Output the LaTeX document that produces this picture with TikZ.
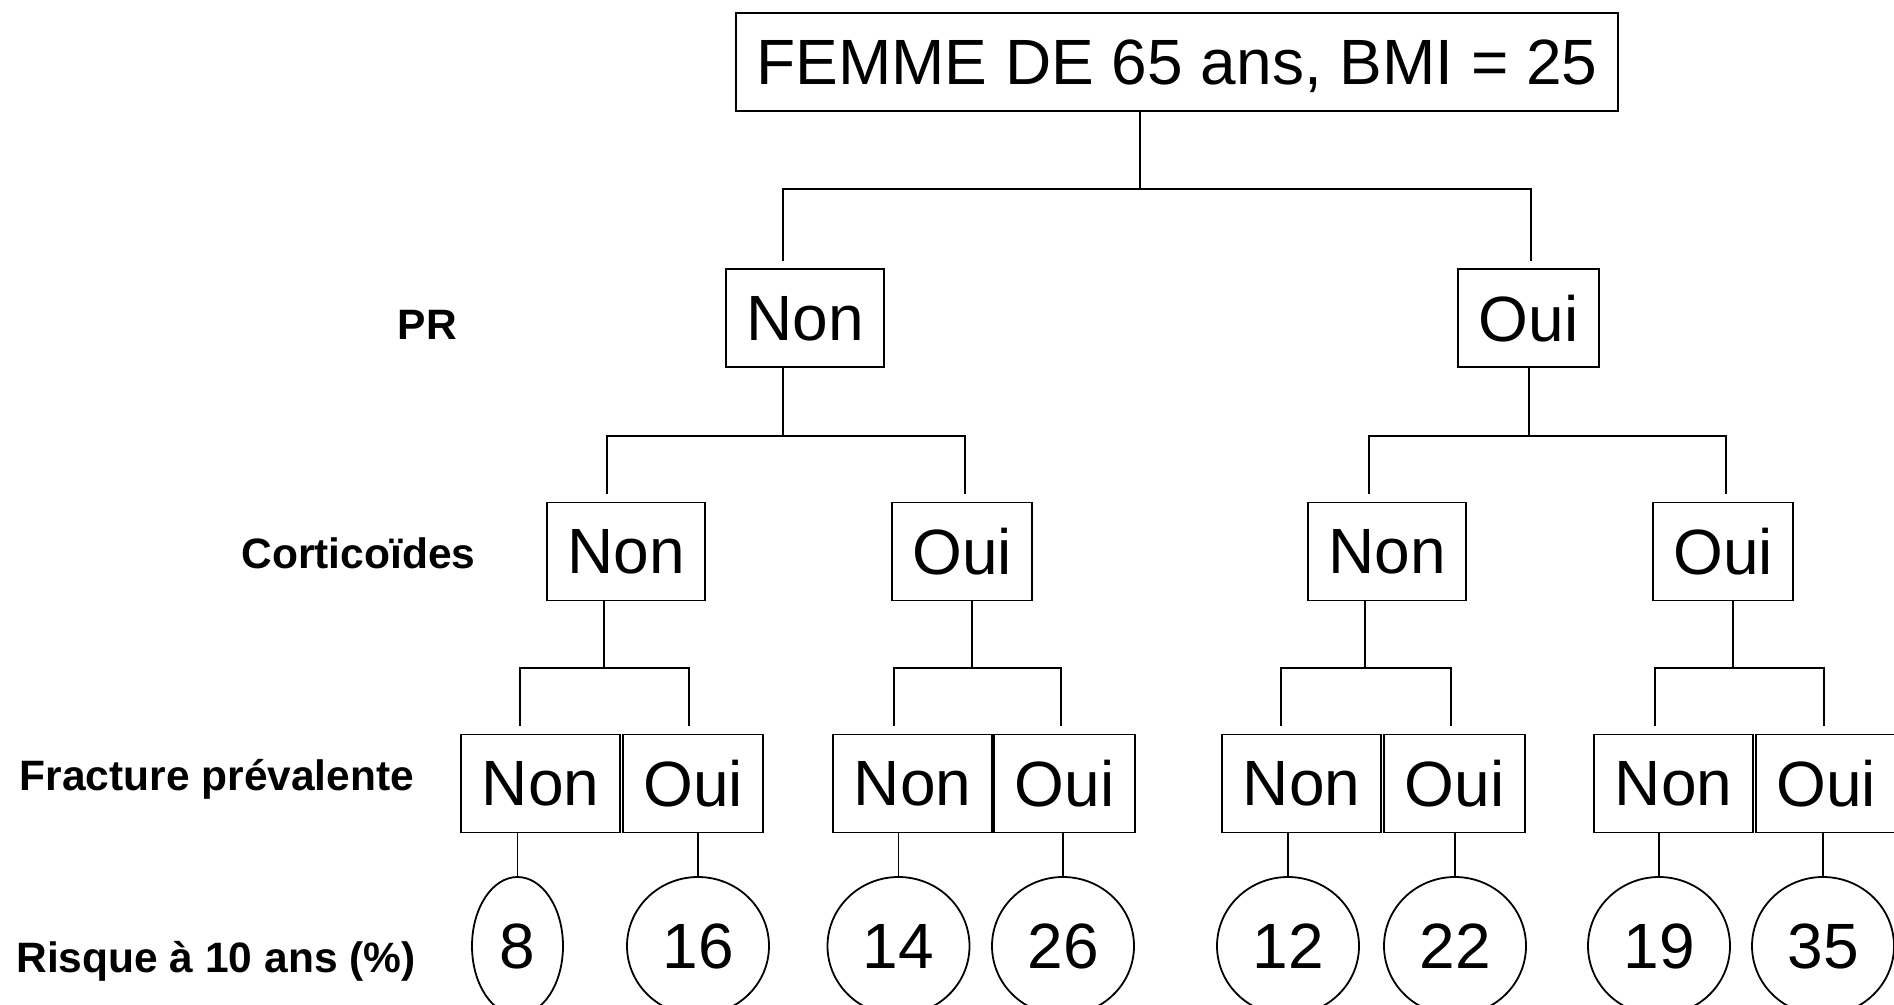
\documentclass[tikz,border=0pt]{standalone}
\usepackage{fontspec}
\setmainfont{Liberation Sans}
\usepackage{tikz}
\usetikzlibrary{shapes.geometric}
\newcommand{\grand}{\fontsize{64}{76}\selectfont}
\newcommand{\etiq}{\fontsize{42.5}{51}\selectfont\bfseries}

\begin{document}
\begin{tikzpicture}[x=1pt, y=-1pt, line width=1.8pt,
  choix/.style={draw, font=\grand, inner xsep=20.5pt, inner ysep=0pt, minimum height=98pt, text depth=0pt},
  risque/.style={draw, ellipse, font=\grand, inner sep=0pt, minimum height=138pt},
  niveau/.style={font=\etiq, anchor=base},
  branche/.style={shorten <=7.5pt, shorten >=7.5pt}]
  \clip (0,0) rectangle (1894,1004);
  \fill[white] (0,0) rectangle (1894,1004);
  % racine
  \node[choix] (racine) at (1177,62) {FEMME DE 65 ans, BMI = 25};
  % PR
  \node[choix] (pn) at (805,318) {Non};
  \node[choix] (po) at (1528.5,318) {Oui};
  % corticoides
  \node[choix] (cn1) at (626,551.5) {Non};
  \node[choix] (co1) at (962,551.5) {Oui};
  \node[choix] (cn2) at (1387,551.5) {Non};
  \node[choix] (co2) at (1723,551.5) {Oui};
  % fracture prevalente
  \foreach \n/\x/\t in {fn1/540.5/Non, fo1/693/Oui, fn2/912.5/Non, fo2/1064.5/Oui,
                        fn3/1301.5/Non, fo3/1454.5/Oui, fn4/1673.5/Non, fo4/1826/Oui}
    \node[choix] (\n) at (\x,783.5) {\t};
  % risque
  \foreach \n/\x/\w/\v in {r1/517.5/91/8, r2/698/142/16, r3/898.5/142/14, r4/1063/142/26,
                           r5/1288/142/12, r6/1455/142/22, r7/1659/142/19, r8/1823/142/35}
    \node[risque, minimum width=\w pt] (\n) at (\x,946) {\v};
  % branches
  \foreach \p/\l/\r/\a/\b/\s/\y in {racine/pn/po/783/1531/1140/189,
      pn/cn1/co1/607/965/783/436, po/cn2/co2/1369/1726/1529/436,
      cn1/fn1/fo1/520/689/604/668, co1/fn2/fo2/894/1061/972/668,
      cn2/fn3/fo3/1281/1451/1365/668, co2/fn4/fo4/1655/1824/1733/668} {
    \coordinate (\p-s) at (\s,\y);
    \coordinate (\l-d) at (\a,\y);
    \coordinate (\r-d) at (\b,\y);
    \draw (\p.south -| \p-s) -- (\p-s);
    \draw[branche] (\l-d |- \l.north) -- (\l-d) -- (\r-d) -- (\r-d |- \r.north);
  }
  % feuilles
  \foreach \f/\c in {fn1/r1, fo1/r2, fn2/r3, fo2/r4, fn3/r5, fo3/r6, fn4/r7, fo4/r8}
    \draw (\c.north |- \f.south) -- (\c.north);
  % niveaux
  \node[niveau] (lpr) at (427.5,339) {PR};
  \node[niveau] (lcort) at (358.5,568.5) {Corticoïdes};
  \node[niveau] (lfract) at (217,790) {Fracture prévalente};
  \node[niveau] (lrisque) at (216,972) {Risque à 10 ans (\%)};
\end{tikzpicture}
\end{document}
